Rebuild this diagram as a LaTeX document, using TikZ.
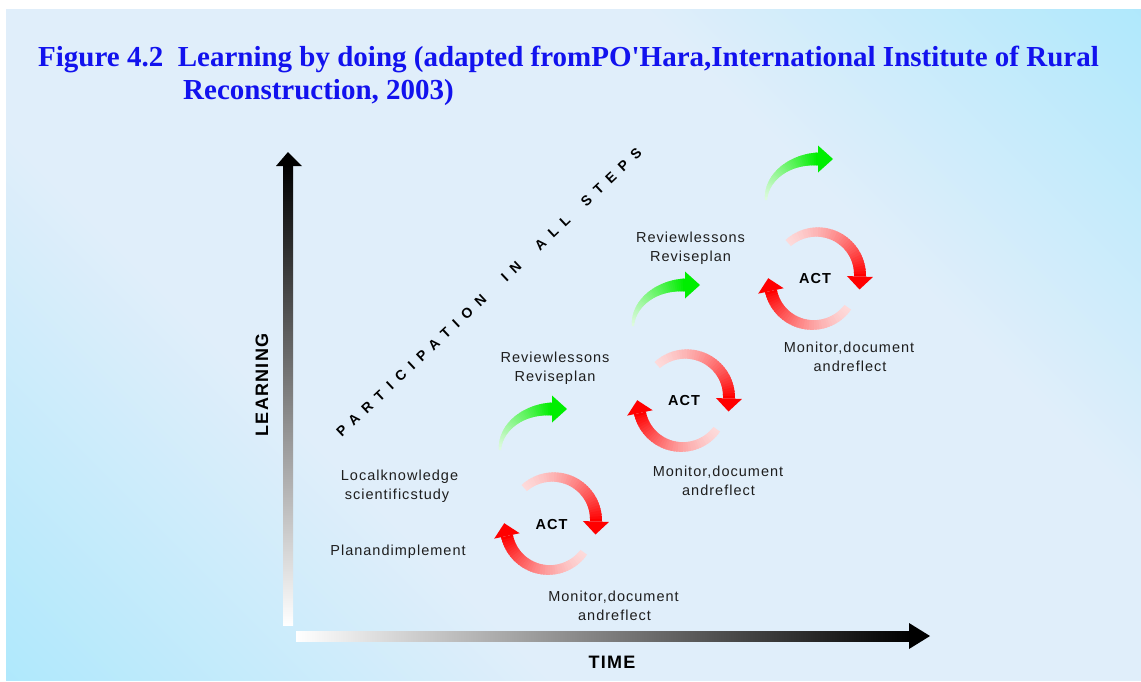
\documentclass[tikz,border=0pt]{standalone}
\usepackage{fontspec}
\setmainfont{Liberation Sans}
\newfontfamily\titlefont{Liberation Serif}
\newfontfamily\labfont[LetterSpace=7]{Liberation Sans}
\newfontfamily\diagfont[LetterSpace=56]{Liberation Sans}
\definecolor{bgcy}{RGB}{172,232,252}
\definecolor{bgpale}{RGB}{224,238,250}
\definecolor{ttlblue}{RGB}{18,18,238}
\definecolor{txt}{RGB}{30,30,30}
\definecolor{pinkA}{RGB}{253,218,218}
\definecolor{redB}{RGB}{255,0,0}
\definecolor{grA}{RGB}{222,250,222}
\definecolor{grB}{RGB}{0,238,0}
\pgfdeclarehorizontalshading{panelsh}{100bp}{color(0bp)=(bgcy); color(13bp)=(bgcy); color(36bp)=(bgpale); color(66bp)=(bgpale); color(87bp)=(bgcy); color(100bp)=(bgcy)}
% gradient arrow along an (elliptic) arc: cx, cy, rx, ry, a0, a1, w0, w1
\newcommand{\gradarrow}[8]{%
  \foreach \i in {0,...,39}{%
    \pgfmathsetmacro\ta{#5+(#6-#5)*\i/40}%
    \pgfmathsetmacro\tb{#5+(#6-#5)*min(\i+1.6,40)/40}%
    \pgfmathsetmacro\wa{(#7+(#8-#7)*\i/40)/2}%
    \pgfmathsetmacro\wb{(#7+(#8-#7)*min(\i+1.6,40)/40)/2}%
    \pgfmathsetmacro\tt{\i/39}%
    \pgfmathtruncatemacro\pc{100*\tt*(\gmix+(1-\gmix)*\tt)}%
    \fill[\colB!\pc!\colA] ({#1+(#3+\wa)*cos(\ta)},{#2+(#4+\wa)*sin(\ta)}) -- ({#1+(#3+\wb)*cos(\tb)},{#2+(#4+\wb)*sin(\tb)}) -- ({#1+(#3-\wb)*cos(\tb)},{#2+(#4-\wb)*sin(\tb)}) -- ({#1+(#3-\wa)*cos(\ta)},{#2+(#4-\wa)*sin(\ta)}) -- cycle;
  }%
  \pgfmathsetmacro\tx{-(#3)*sin(#6)}%
  \pgfmathsetmacro\ty{(#4)*cos(#6)}%
  \pgfmathsetmacro\tn{sqrt(\tx*\tx+\ty*\ty)}%
  \fill[\colB] ({#1+(#3+\hw)*cos(#6)},{#2+(#4+\hw)*sin(#6)}) -- ({#1+(#3)*cos(#6)+\hl*\tx/\tn},{#2+(#4)*sin(#6)+\hl*\ty/\tn}) -- ({#1+(#3-\hw)*cos(#6)},{#2+(#4-\hw)*sin(#6)}) -- cycle;
}
\newcommand{\actcycle}[2]{% shift x, shift y
  \def\colA{pinkA}\def\colB{redB}\def\gmix{0.4}\def\hw{13}\def\hl{13}%
  \gradarrow{553+#1}{520+#2}{43}{43}{228}{362}{8}{12}%
  \gradarrow{549+#1}{527+#2}{43}{43}{36}{168}{8}{12}%
}
\newcommand{\greenarrow}[2]{%
  \def\colA{grA}\def\colB{grB}\def\gmix{0.6}\def\hw{13.5}\def\hl{15}%
  \gradarrow{552+#1}{450+#2}{52}{41}{180}{270}{2}{13}%
}
\begin{document}
\begin{tikzpicture}[x=1pt,y=-1pt,
  lab/.style={font=\labfont\fontsize{14.5}{19}\selectfont, text=txt, inner sep=0pt, anchor=base},
  act/.style={font=\labfont\bfseries\fontsize{14.5}{17}\selectfont, text=black, inner sep=0pt},
  axlab/.style={font=\labfont\bfseries\fontsize{18}{20}\selectfont, text=black, inner sep=0pt},
  ttl/.style={font=\titlefont\bfseries\fontsize{29}{33}\selectfont, text=ttlblue, anchor=base west, inner sep=0pt},
  diag/.style={font=\diagfont\bfseries\fontsize{14}{14}\selectfont, text=black, inner sep=0pt, rotate=43.3}]
\useasboundingbox (0,0) rectangle (1141,681);
\fill[white] (0,0) rectangle (1141,681);
\shade[shading=panelsh, shading angle=45] (6,9) rectangle (1141,680);

% title
\node[ttl] (t1) at (38,66) {Figure 4.2\ \ Learning by doing (adapted fromPO\textquotesingle Hara,International Institute of Rural};
\node[ttl] (t2) at (183,99) {Reconstruction, 2003)};

% axes
\coordinate (yb) at (288,625);
\coordinate (yt) at (288,152);
\shade[bottom color=white, top color=black] (283,165) rectangle (293,625);
\fill[black] (276,166) -- (yt) -- (302,166) -- cycle;
\coordinate (xl) at (296,636);
\coordinate (xr) at (930,636);
\shade[left color=white, right color=black] (296,631) rectangle (910,641);
\fill[black] (909,623) -- (xr) -- (909,649) -- cycle;
\node[axlab, rotate=90] (learn) at (262,385) {LEARNING};
\node[axlab] (time) at (612,662) {TIME};

% diagonal text, one node per word
\node[diag] (w1) at (411.4,365.8) {PARTICIPATION};
\node[diag] (w2) at (511.3,271.6) {IN};
\node[diag] (w3) at (552.5,232.9) {ALL};
\node[diag] (w4) at (611.3,177.5) {STEPS};

% cycles
\actcycle{0}{0}
\actcycle{133}{-123}
\actcycle{264}{-245}
\greenarrow{0}{0}
\greenarrow{133}{-124}
\greenarrow{266}{-250}

\node[act] (act1) at (551.5,524) {ACT};
\node[act] (act2) at (684,401) {ACT};
\node[act] (act3) at (815,279) {ACT};

% labels
\node[lab] (lk1) at (399.5,480.5) {Localknowledge};
\node[lab] (lk2) at (397,499) {scientificstudy};
\node[lab] (pi) at (398,555) {Planandimplement};
\node[lab] (ra1) at (555,362) {Reviewlessons};
\node[lab] (ra2) at (555,381) {Reviseplan};
\node[lab] (rb1) at (690.5,242.5) {Reviewlessons};
\node[lab] (rb2) at (690.5,261) {Reviseplan};
\node[lab] (ma1) at (613.5,601.5) {Monitor,document};
\node[lab] (ma2) at (614.5,620.5) {andreflect};
\node[lab] (mb1) at (718,476.5) {Monitor,document};
\node[lab] (mb2) at (718.5,495.5) {andreflect};
\node[lab] (mc1) at (849,352.5) {Monitor,document};
\node[lab] (mc2) at (850,371.5) {andreflect};
\end{tikzpicture}
\end{document}
